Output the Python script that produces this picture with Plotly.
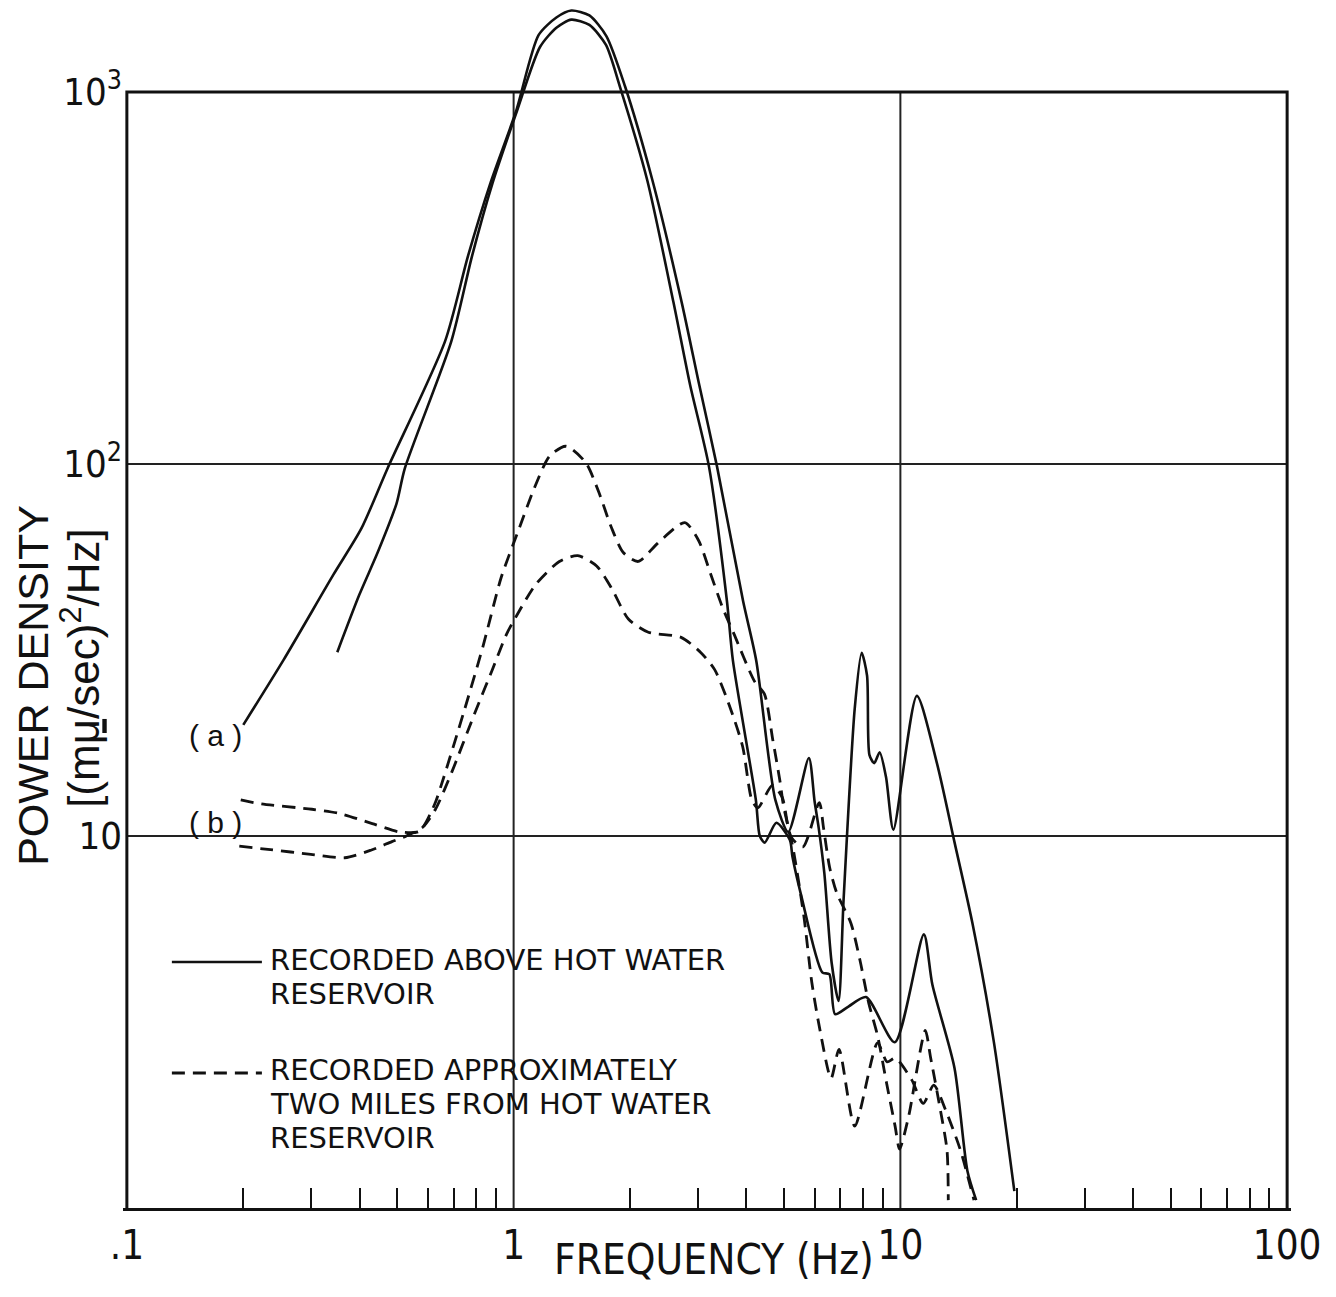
import numpy as np
import plotly.graph_objects as go

# ---------------- data ----------------
# Solid curve (a), outer: recorded above hot water reservoir
s1_freq = [0.20, 0.254, 0.342, 0.404, 0.472, 0.665, 0.762, 0.871, 1.015, 1.16, 1.29, 1.41,
           1.57, 1.737, 1.94, 2.284, 2.72, 3.02, 3.357, 3.92, 4.24, 4.75, 5.13, 5.80, 6.0,
           6.15, 6.36, 6.64, 6.92, 7.13, 7.62, 7.94, 8.2, 8.32, 8.56, 8.84, 9.18, 9.59,
           11.03, 12.43, 13.81, 15.34, 17.44, 19.71]
s1_power = [19.9, 29.7, 50.4, 67.1, 97.3, 214, 362, 569, 889, 1422, 1586, 1656,
            1606, 1414, 1038, 580, 272, 163, 98.4, 42.8, 29.6, 12.5, 10.25, 16.2, 12.4,
            10.5, 7.94, 4.57, 3.6, 6.72, 22.0, 31.1, 27.0, 16.5, 15.7, 16.8, 14.4, 10.4,
            23.8, 15.7, 9.6, 5.86, 2.80, 1.11]

# Solid curve, inner
s2_freq = [0.35, 0.399, 0.445, 0.498, 0.523, 0.69, 0.78, 0.882, 1.02, 1.17, 1.29, 1.41,
           1.57, 1.733, 1.88, 2.215, 2.59, 2.86, 3.2, 3.56, 3.69, 4.23, 4.33, 4.46, 4.78,
           5.18, 5.26, 5.55, 6.28, 6.55, 6.78, 7.34, 8.15, 9.67, 11.5, 12.1, 13.8, 14.9, 15.7]
s2_power = [31.2, 44.5, 57.8, 78.3, 97.2, 213.6, 361, 569, 889, 1321, 1489, 1565,
            1515, 1338, 1039, 580, 272, 163, 98.4, 42.9, 29.6, 12.5, 10.0, 9.6, 10.85,
            9.75, 8.79, 6.87, 4.30, 4.25, 3.32, 3.48, 3.69, 2.79, 5.44, 3.98, 2.38, 1.26, 1.05]

# Dashed curve (b), upper: recorded approximately two miles from reservoir
d1_freq = [0.197, 0.2225, 0.301, 0.354, 0.431, 0.506, 0.571, 0.6245, 0.65, 0.743, 0.833,
           0.929, 1.019, 1.13, 1.239, 1.366, 1.536, 1.662, 1.785, 1.921, 2.10, 2.36, 2.77,
           3.01, 3.23, 3.47, 3.71, 4.2, 4.45, 4.68, 4.88, 4.99, 5.27, 5.63, 5.90, 6.21,
           6.62, 6.94, 7.62, 8.73, 9.24, 9.70, 10.7, 11.46, 12.2, 13.1, 14.3, 15.5]
d1_power = [12.5, 12.2, 11.8, 11.5, 10.8, 10.26, 10.3, 12.15, 13.7, 21.5, 32.3,
            49.6, 64.5, 85.9, 105, 111.6, 100.9, 83.8, 68, 57.8, 54.7, 61.3, 69.6,
            62.2, 50.7, 41.1, 35, 26, 24.1, 18.1, 14.1, 12.0, 9.35, 6.08, 4.05, 2.97,
            2.23, 2.67, 1.66, 2.78, 2.47, 2.53, 2.21, 1.91, 2.14, 1.83, 1.43, 1.05]

# Dashed curve, lower
d2_freq = [0.1953, 0.235, 0.299, 0.366, 0.429, 0.4845, 0.528, 0.582, 0.628, 0.692, 0.788,
           0.881, 0.959, 1.022, 1.138, 1.313, 1.465, 1.639, 1.797, 1.98, 2.23, 2.71, 3.05,
           3.31, 3.62, 3.91, 4.13, 4.28, 4.67, 4.95, 5.21, 5.60, 6.17, 6.33, 6.56, 6.85,
           7.45, 7.86, 8.28, 8.74, 9.2, 9.69, 9.95, 10.5, 11.6, 11.97, 12.6, 13.2, 13.3]
d2_power = [9.39, 9.19, 8.93, 8.74, 9.17, 9.66, 10.0, 10.56, 11.8, 14.85, 21.0,
            28.0, 34.9, 39.4, 47.3, 54.7, 56.7, 53.2, 46.1, 38.3, 35.3, 34.2, 31.1,
            28.0, 22.3, 17.4, 12.5, 11.9, 13.7, 12.7, 9.95, 9.35, 12.3, 10.5, 8.25, 7.02,
            5.83, 4.64, 3.56, 2.89, 2.18, 1.66, 1.44, 1.76, 3.0, 2.54, 1.91, 1.43, 1.05]

x_tick_vals = [0.1, 1, 10, 100]
x_tick_text = [".1", "1", "10", "100"]
x_minor_vals = [0.2, 0.3, 0.4, 0.5, 0.6, 0.7, 0.8, 0.9,
                2, 3, 4, 5, 6, 7, 8, 9,
                20, 30, 40, 50, 60, 70, 80, 90]
y_tick_vals = [10, 100, 1000]
y_tick_text = ["10", "10<sup>2</sup>", "10<sup>3</sup>"]
x_grid = [1, 10]
y_grid = [10, 100]
x_lim = [0.1, 100]
y_lim = [1, 1000]

legend_solid = ["RECORDED ABOVE HOT WATER", "RESERVOIR"]
legend_dashed = ["RECORDED APPROXIMATELY", "TWO MILES FROM HOT WATER", "RESERVOIR"]

# ---------------- figure geometry ----------------
OFF = 8                       # default page margin around the plot div
W, H = 1320, 1281
PW = 1160 * 3.02 / 3          # 3 decades over 1160 px, plus small padding
ML = 127 - OFF - 0.01 / 3.02 * PW
MR = W - ML - PW
MT = 0
PH = 1200
MB = H - MT - PH


def px(xpage):
    return (xpage - OFF - ML) / PW


def py(ypage):
    return (OFF + MT + PH - ypage) / PH


FONT = "Liberation Sans Narrow, DejaVu Sans Condensed, Liberation Sans, Arial, sans-serif"
FONT_N = "Liberation Sans, Arial, sans-serif"
FONT_L = "DejaVu Sans, Liberation Sans, sans-serif"
INK = "#111111"

fig = go.Figure()

# grid lines and frame (drawn through the data axes)
gx, gy = [], []
for v in x_grid:
    gx += [v, v, None]
    gy += [y_lim[0], y_lim[1], None]
for v in y_grid:
    gx += [x_lim[0], x_lim[1], None]
    gy += [v, v, None]
fig.add_trace(go.Scatter(x=gx, y=gy, mode="lines", line=dict(color="#222222", width=2),
                         hoverinfo="skip", showlegend=False))
fig.add_trace(go.Scatter(x=[x_lim[0], x_lim[0], x_lim[1], x_lim[1]],
                         y=[y_lim[0], y_lim[1], y_lim[1], y_lim[0]],
                         mode="lines", line=dict(color=INK, width=3),
                         hoverinfo="skip", showlegend=False))

curve_style = dict(mode="lines", hoverinfo="skip", showlegend=False)
solid_line = dict(color=INK, width=2.6, shape="spline", smoothing=0.7)
dash_line = dict(color=INK, width=2.8, dash="13px,8px", shape="spline", smoothing=0.7)
fig.add_trace(go.Scatter(x=s1_freq, y=s1_power, line=solid_line, **curve_style))
fig.add_trace(go.Scatter(x=s2_freq, y=s2_power, line=solid_line, **curve_style))
fig.add_trace(go.Scatter(x=d1_freq, y=d1_power, line=dash_line, **curve_style))
fig.add_trace(go.Scatter(x=d2_freq, y=d2_power, line=dash_line, **curve_style))

x_lo, x_hi = np.log10(x_lim[0]) - 0.01, np.log10(x_lim[1]) + 0.01
y_top = np.log10(y_lim[0]) + 3 * PH / 1116.0

fig.update_xaxes(type="log", range=[x_lo, x_hi],
                 tickmode="array", tickvals=x_tick_vals, ticktext=x_tick_text,
                 ticks="", showline=True, linecolor=INK, linewidth=3,
                 minor=dict(tickmode="array", tickvals=x_minor_vals, ticks="inside",
                            ticklen=20, tickwidth=2, tickcolor=INK, showgrid=False),
                 showgrid=False, zeroline=False,
                 tickfont=dict(family=FONT, size=40, color=INK))
fig.update_yaxes(type="log", range=[np.log10(y_lim[0]), y_top],
                 tickmode="array", tickvals=y_tick_vals, ticktext=y_tick_text,
                 ticks="", showline=False, showgrid=False, zeroline=False,
                 tickfont=dict(family=FONT, size=38, color=INK))

base = dict(xref="paper", yref="paper", showarrow=False, xanchor="center", yanchor="middle")
ann = []
ann.append(dict(text="FREQUENCY (Hz)", x=px(714), y=py(1259),
                font=dict(family=FONT, size=42, color=INK), **base))
ann.append(dict(text="POWER DENSITY", x=px(33), y=py(685), textangle=-90,
                font=dict(family=FONT_N, size=43, color=INK), **base))
ann.append(dict(text="[(m<u>μ</u>/sec)<sup>2</sup>/Hz]", x=px(80), y=py(668), textangle=-90,
                font=dict(family=FONT_N, size=44, color=INK), **base))
ann.append(dict(text="( a )", x=px(216), y=py(735),
                font=dict(family=FONT_N, size=30, color=INK), **base))
ann.append(dict(text="( b )", x=px(216), y=py(822),
                font=dict(family=FONT_N, size=30, color=INK), **base))

leg = dict(xref="paper", yref="paper", showarrow=False, xanchor="left", yanchor="middle",
           font=dict(family=FONT_L, size=29, color=INK))
for txt, yy in zip(legend_solid, [960, 994]):
    ann.append(dict(text=txt, x=px(268), y=py(yy), **leg))
for txt, yy in zip(legend_dashed, [1070, 1104, 1138]):
    ann.append(dict(text=txt, x=px(268), y=py(yy), **leg))

shapes = [
    dict(type="line", xref="paper", yref="paper", x0=px(172), x1=px(262), y0=py(962), y1=py(962),
         line=dict(color=INK, width=2.6)),
    dict(type="line", xref="paper", yref="paper", x0=px(172), x1=px(262), y0=py(1073), y1=py(1073),
         line=dict(color=INK, width=2.8, dash="13px,8px")),
]

fig.update_layout(width=W, height=H, margin=dict(l=ML, r=MR, t=MT, b=MB, autoexpand=False),
                  paper_bgcolor="white", plot_bgcolor="white",
                  annotations=ann, shapes=shapes, hovermode=False, showlegend=False)

fig.write_html("out.html")
